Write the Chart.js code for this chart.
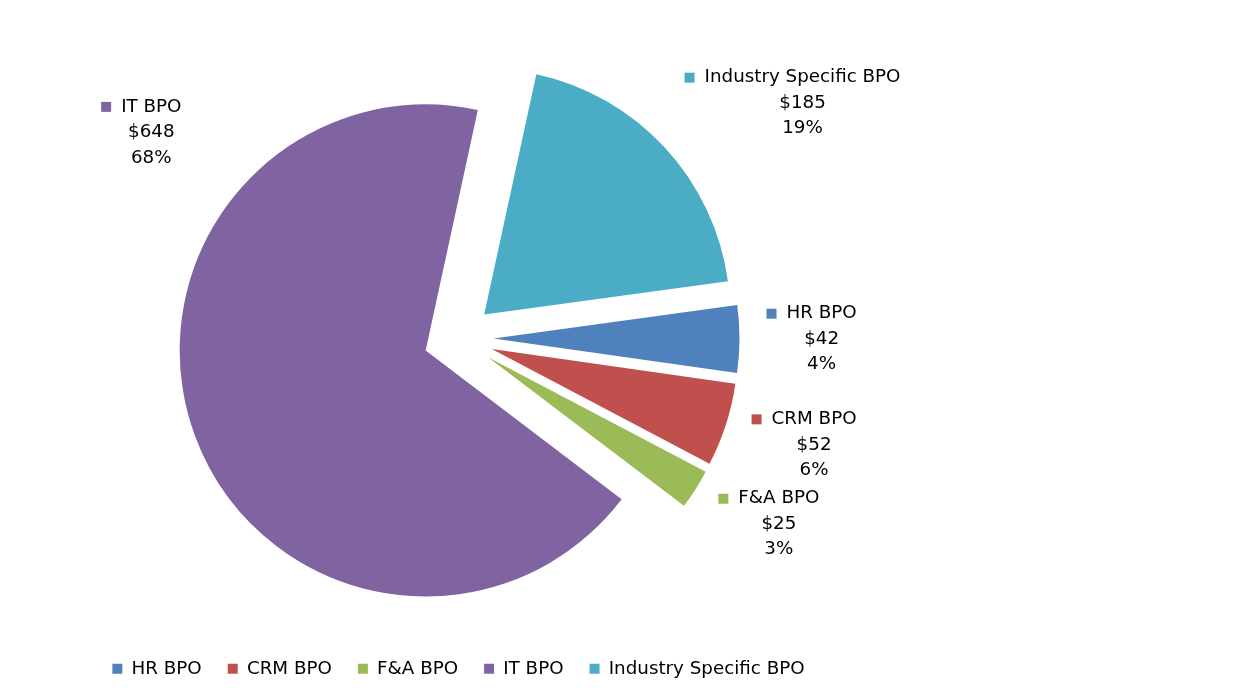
<!DOCTYPE html>
<html>
<head>
<meta charset="utf-8">
<title>BPO market by segment</title>
<script src="https://cdn.jsdelivr.net/npm/chart.js@4"></script>
<style>
  html, body { margin: 0; padding: 0; background: #fff; }
  #wrap { width: 1244px; height: 694px; }
</style>
</head>
<body>
<div id="wrap"><canvas id="bpoChart" width="1244" height="694"></canvas></div>
<script>
// chart data
const categories = ['HR BPO', 'CRM BPO', 'F&A BPO', 'IT BPO', 'Industry Specific BPO'];
const values = [42, 52, 25, 648, 185];
const shares = [4, 6, 3, 68, 19];   // printed percentages
const colors = ['#4F81BD', '#C0504D', '#9BBB59', '#8064A2', '#4BACC6'];

const FONT = 'DejaVu Sans';
const FONT_SIZE = 18.3;
Chart.defaults.font.family = FONT;
Chart.defaults.font.size = FONT_SIZE;
Chart.defaults.color = '#000';

// ============================================
// exploded slices: every arc pushed out along its mid angle
// ============================================
const explodePlugin = {
  id: 'explode',
  beforeDatasetDraw(chart, args, opts) {
    const ctx = chart.ctx;
    args.meta.data.forEach(arc => {
      const mid = (arc.startAngle + arc.endAngle) / 2;
      ctx.save();
      ctx.translate(Math.cos(mid) * opts.distance, Math.sin(mid) * opts.distance);
      arc.draw(ctx);
      ctx.restore();
    });
    return false; // skip the default (non exploded) drawing
  }
};

// ============================================
// data labels with legend key, outside each slice
// ============================================
const sliceLabelPlugin = {
  id: 'sliceLabels',
  afterDatasetsDraw(chart, args, opts) {
    const ctx = chart.ctx;
    const meta = chart.getDatasetMeta(0);
    const explode = chart.options.plugins.explode.distance;
    const lh = opts.lineHeight;

    ctx.save();
    ctx.font = FONT_SIZE + 'px "' + FONT + '"';
    ctx.textBaseline = 'middle';
    ctx.textAlign = 'center';

    meta.data.forEach((arc, i) => {
      const ov = opts.overrides[i] || {};
      const mid = ov.angle !== undefined ? ov.angle * Math.PI / 180 : (arc.startAngle + arc.endAngle) / 2;
      const r = arc.outerRadius + explode + (ov.gap !== undefined ? ov.gap : opts.gap);
      const px = arc.x + Math.cos(mid) * r;
      const py = arc.y + Math.sin(mid) * r;

      const lines = [categories[i], '$' + values[i], shares[i] + '%'];
      const w0 = ctx.measureText(lines[0]).width;
      const boxW = opts.keySize + opts.keyGap + w0;
      const boxH = lh * 3;
      const left = Math.cos(mid) >= 0 ? px : px - boxW;
      const cy = py + Math.sin(mid) * boxH / 2;
      const textX = left + opts.keySize + opts.keyGap + w0 / 2;

      ctx.fillStyle = colors[i];
      ctx.fillRect(left, cy - lh - opts.keySize / 2, opts.keySize, opts.keySize);

      ctx.fillStyle = '#000';
      lines.forEach((t, k) => ctx.fillText(t, textX, cy + (k - 1) * lh));
    });
    ctx.restore();
  }
};

new Chart(document.getElementById('bpoChart'), {
  type: 'pie',
  data: {
    labels: categories,
    datasets: [{
      data: values,
      backgroundColor: colors,
      borderWidth: 0
    }]
  },
  options: {
    responsive: false,
    animation: false,
    events: [],
    rotation: 82.2,
    radius: 246,
    layout: {
      padding: { left: 0, right: 327, top: 43, bottom: 6 }
    },
    plugins: {
      explode: { distance: 35 },
      sliceLabels: {
        lineHeight: 25.5,
        keySize: 10,
        keyGap: 10,
        gap: 27,
        overrides: { 3: { angle: 213.7, gap: 52 } }
      },
      legend: {
        position: 'bottom',
        labels: {
          boxWidth: 10,
          boxHeight: 10,
          padding: 26
        }
      },
      tooltip: { enabled: false }
    }
  },
  plugins: [explodePlugin, sliceLabelPlugin]
});
</script>
</body>
</html>
